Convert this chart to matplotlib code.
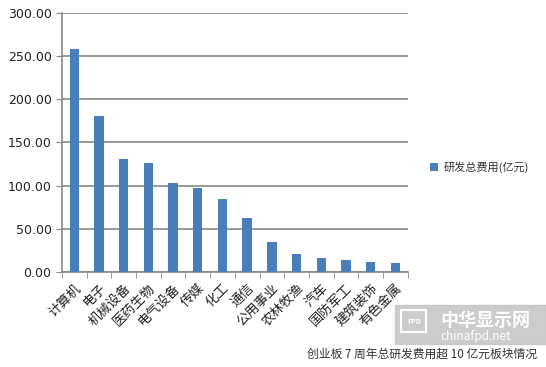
import matplotlib
matplotlib.use('Agg')
import matplotlib.pyplot as plt
from matplotlib.patches import Rectangle

plt.rcParams['font.family'] = ['Noto Sans CJK SC', 'DejaVu Sans']

# data
sectors = ['计算机', '电子', '机械设备', '医药生物', '电气设备', '传媒', '化工',
           '通信', '公用事业', '农林牧渔', '汽车', '国防军工', '建筑装饰', '有色金属']
spend = [258, 180, 131, 126, 103, 97, 84, 62, 35, 21, 16, 14, 12, 10]
yticks = [0, 50, 100, 150, 200, 250, 300]

fig = plt.figure(figsize=(5.46, 3.67), dpi=100)
ax = fig.add_axes([0.1136, 0.259, 0.633, 0.706])

x = list(range(len(sectors)))
ax.bar(x, spend, width=0.38, color='#4a7ebb', label='研发总费用(亿元)', zorder=3)

ax.set_xlim(-0.5, len(sectors) - 0.5)
ax.set_ylim(0, 300)
ax.set_yticks(yticks)
ax.set_yticklabels(['%.2f' % v for v in yticks], fontsize=9, family='DejaVu Sans', color='#222222')
ax.yaxis.grid(True, color='#888888', linewidth=1.2, zorder=0)

ax.set_xticks(x)
ax.set_xticklabels(sectors, rotation=45, ha='right', rotation_mode='anchor', fontsize=9.5, color='#222222')
ax.set_xticks([i - 0.5 for i in range(len(sectors) + 1)], minor=True)
ax.tick_params(axis='x', which='major', length=0, pad=7)
ax.tick_params(axis='x', which='minor', length=4, color='#888888')
ax.tick_params(axis='y', length=4, color='#888888')

for s in ['top', 'right']:
    ax.spines[s].set_visible(False)
for s in ['left', 'bottom']:
    ax.spines[s].set_color('#888888')
    ax.spines[s].set_linewidth(1.2)

leg = fig.legend(loc='center left', bbox_to_anchor=(0.77, 0.545), frameon=False,
                 fontsize=8, handlelength=0.7, handleheight=0.7, handletextpad=0.5)
for t in leg.get_texts():
    t.set_color('#333333')

# watermark
fig.patches.append(Rectangle((0.723, 0.062), 0.277, 0.107, transform=fig.transFigure,
                             color='#c4c4c4', alpha=0.85, zorder=0))
fig.patches.append(Rectangle((0.735, 0.095), 0.046, 0.06, transform=fig.transFigure,
                             fill=False, edgecolor='white', linewidth=1.5))
fig.text(0.758, 0.125, 'FPD', fontsize=5, color='white', weight='bold', ha='center', va='center')
fig.text(0.806, 0.128, '中华显示网', fontsize=13, color='white', weight='bold', va='center')
fig.text(0.806, 0.083, 'chinafpd.net', fontsize=8.5, color='white', va='center')

fig.text(0.983, 0.035, '创业板 7 周年总研发费用超 10 亿元板块情况', ha='right', va='center',
         fontsize=8.5, color='#333333')

fig.savefig('out.png', dpi=100, facecolor='white')
